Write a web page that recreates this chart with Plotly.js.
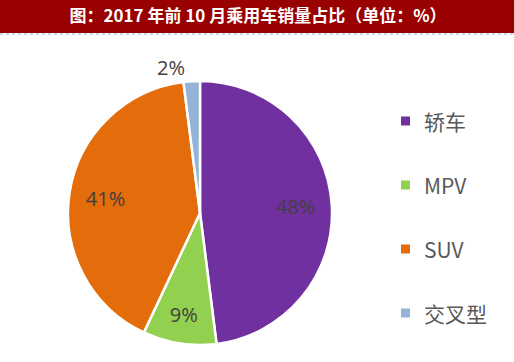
<!DOCTYPE html>
<html>
<head>
<meta charset="utf-8">
<script src="https://cdn.plot.ly/plotly-3.0.1.min.js"></script>
<style>html,body{margin:0;padding:0;background:#fff;}#chart{width:514px;height:362px;}</style>
</head>
<body>
<div id="chart"></div>
<script>
const categories = ['轿车', 'MPV', 'SUV', '交叉型'];
const shares = [48, 9, 41, 2];
const colors = ['#7030a0', '#92d050', '#e46c0a', '#95b3d7'];
const labelPositions = ['inside', 'inside', 'inside', 'outside'];
const titleText = '图：2017 年前 10 月乘用车销量占比（单位：%）';

const W = 514, H = 362;
const cx = 200, cy = 213, R = 132;
const domain = { x: [(cx - R) / W, (cx + R) / W], y: [(H - cy - R) / H, (H - cy + R) / H] };
const labelFont = { family: 'Open Sans, Noto Sans, sans-serif', size: 20, color: '#404040' };

// Slices
const pieTrace = {
  type: 'pie',
  labels: categories,
  values: shares,
  sort: false,
  direction: 'clockwise',
  rotation: 0,
  marker: { colors: colors, line: { color: '#ffffff', width: 2.5 } },
  textinfo: 'none',
  showlegend: false,
  hoverinfo: 'none',
  automargin: false,
  domain: domain
};

// Percentage labels (same data, transparent ring so labels sit further out)
const labelTrace = {
  type: 'pie',
  labels: categories,
  values: shares,
  sort: false,
  direction: 'clockwise',
  rotation: 0,
  hole: 0.45,
  marker: { colors: categories.map(() => 'rgba(0,0,0,0)'), line: { width: 0 } },
  textinfo: 'percent',
  texttemplate: '%{percent:.0%}',
  textposition: labelPositions,
  insidetextorientation: 'horizontal',
  textfont: labelFont,
  insidetextfont: labelFont,
  outsidetextfont: labelFont,
  showlegend: false,
  hoverinfo: 'none',
  automargin: false,
  domain: domain
};

const legendX = 405, legendY0 = 121, legendStep = 64;
const shapes = [
  { type: 'rect', xref: 'paper', yref: 'paper', x0: 0, x1: 1, y0: 1 - 33 / H, y1: 1, fillcolor: '#990000', line: { width: 0 }, layer: 'below' },
  { type: 'line', xref: 'paper', yref: 'paper', x0: 0, x1: 1, y0: 1 - 34 / H, y1: 1 - 34 / H, line: { color: '#8eaadb', width: 1, dash: 'dot' } }
];
const annotations = [];
categories.forEach((c, i) => {
  const y = legendY0 + i * legendStep;
  shapes.push({ type: 'rect', xref: 'paper', yref: 'paper', x0: (legendX - 4) / W, x1: (legendX + 5) / W, y0: (H - y - 4.5) / H, y1: (H - y + 4.5) / H, fillcolor: colors[i], line: { width: 0 } });
  annotations.push({ xref: 'paper', yref: 'paper', x: (legendX + 17) / W, y: (H - y) / H, xanchor: 'left', yanchor: 'middle', showarrow: false, text: c,
    font: { family: 'Noto Sans CJK SC, Open Sans, sans-serif', size: 21, color: '#595959' } });
});

const layout = {
  width: W, height: H,
  margin: { l: 0, r: 0, t: 0, b: 0 },
  paper_bgcolor: '#ffffff',
  title: { text: titleText, x: 258 / W, xanchor: 'center', y: 1 - 16 / H, yanchor: 'middle', yref: 'paper',
    font: { family: 'Noto Sans CJK SC, sans-serif', size: 17, color: '#ffffff', weight: 'bold' } },
  shapes: shapes,
  annotations: annotations,
  showlegend: false
};

Plotly.newPlot('chart', [pieTrace, labelTrace], layout, { staticPlot: true, displayModeBar: false });
</script>
</body>
</html>
